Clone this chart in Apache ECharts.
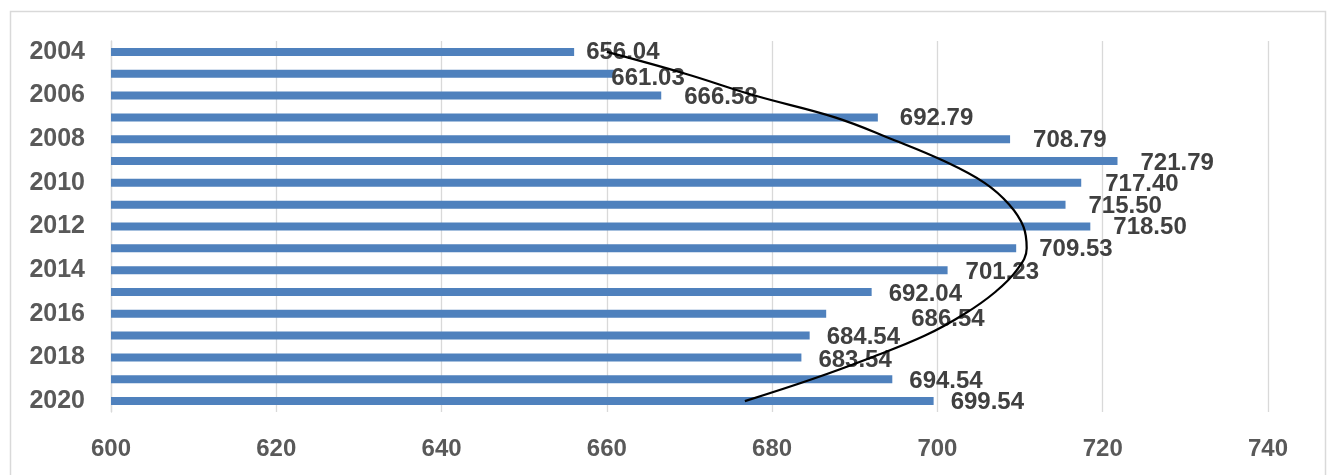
<!DOCTYPE html>
<html>
<head>
<meta charset="utf-8">
<script src="https://cdn.jsdelivr.net/npm/echarts@6/dist/echarts.min.js"></script>
<style>
html,body{margin:0;padding:0;background:#fff;}
#chart{width:1327px;height:475px;}
</style>
</head>
<body>
<div id="chart"></div>
<script>
const years = ['2004','2005','2006','2007','2008','2009','2010','2011','2012','2013','2014','2015','2016','2017','2018','2019','2020'];
const values = [656.04,661.03,666.58,692.79,708.79,721.79,717.40,715.50,718.50,709.53,701.23,692.04,686.54,684.54,683.54,694.54,699.54];
// trend curve at each year
const trend = [660.0,669.5,677.9,687.6,694.5,700.8,705.7,708.7,710.4,710.8,709.6,707.0,703.3,698.5,692.0,684.8,676.7];
const xTicks = [600,620,640,660,680,700,720,740];

// label nudges (style config, pixels)
const labelDx = [12,-4,23,22,23,23,24,23,23,23,18,17,85,17,17,17,17];
const labelDy = [0,5,2,1,1,2,2,2,1,1,2,2,6,2,3,2,1];

const chart = echarts.init(document.getElementById('chart'));
const FONT = '"Liberation Sans", Arial, sans-serif';

const barData = values.map((v,i)=>({
  value: v,
  label: { offset: [labelDx[i], labelDy[i]] }
}));

chart.setOption({
  animation: false,
  backgroundColor: '#ffffff',
  graphic: [{
    type: 'rect',
    shape: { x: 10.5, y: 11.5, width: 1315, height: 500 },
    style: { fill: 'none', stroke: '#d9d9d9', lineWidth: 1.5 },
    silent: true, z: -10
  }],
  grid: { left: 111, right: 59, top: 41, bottom: 63, containLabel: false },
  xAxis: {
    type: 'value',
    min: xTicks[0], max: xTicks[xTicks.length-1], interval: 20,
    axisLine: { show: false },
    axisTick: { show: false },
    splitLine: { show: true, lineStyle: { color: '#d9d9d9', width: 1.3 } },
    axisLabel: { color: '#595959', fontSize: 24, fontWeight: 'bold', fontFamily: FONT, margin: 25 }
  },
  yAxis: {
    type: 'category',
    data: years,
    inverse: true,
    axisLine: { show: true, lineStyle: { color: '#d9d9d9', width: 1.3 } },
    axisTick: { show: false },
    axisLabel: { interval: 1, color: '#595959', fontSize: 25, fontWeight: 'bold', fontFamily: FONT, margin: 26 }
  },
  series: [
    {
      type: 'bar',
      data: barData,
      barWidth: 8,
      itemStyle: { color: '#4f81bd' },
      label: {
        show: true,
        position: 'right',
        distance: 0,
        color: '#404040',
        fontSize: 24,
        fontWeight: 'bold',
        fontFamily: FONT,
        formatter: p => p.value.toFixed(2)
      },
      z: 2
    },
    {
      type: 'line',
      data: trend,
      smooth: 0.4,
      showSymbol: false,
      lineStyle: { color: '#000000', width: 2.2 },
      z: 5
    }
  ]
});
</script>
</body>
</html>
